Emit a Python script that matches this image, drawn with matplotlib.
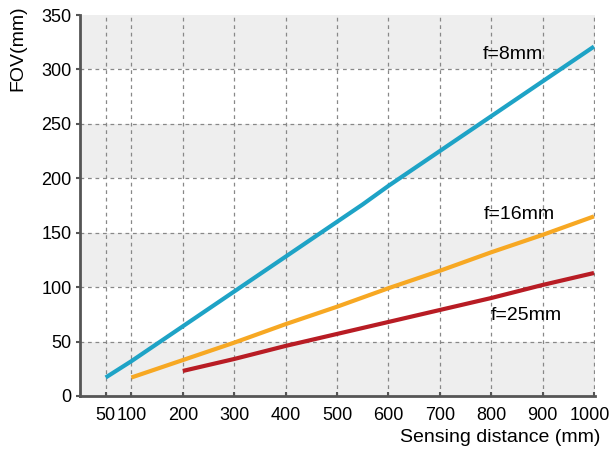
import matplotlib
matplotlib.use("Agg")
import matplotlib.pyplot as plt
from matplotlib.transforms import ScaledTranslation

plt.rcParams['font.family'] = ['Liberation Sans', 'DejaVu Sans']

x_f8 = [50, 100, 150, 200, 250, 300, 350, 400, 450, 500, 550, 600, 650, 700, 750, 800, 850, 900, 950, 1000]
y_f8 = [17, 32, 48, 64, 80, 96, 112, 128, 144, 160, 176, 193, 209, 225, 241, 257, 273, 289, 305, 321]
x_f16 = [100, 200, 300, 400, 500, 600, 700, 800, 900, 1000]
y_f16 = [17, 33, 49, 66, 82, 99, 115, 132, 148, 165]
x_f25 = [200, 300, 400, 500, 600, 700, 800, 900, 1000]
y_f25 = [23, 34, 46, 57, 68, 79, 90, 102, 113]

x_ticks = [50, 100, 200, 300, 400, 500, 600, 700, 800, 900, 1000]
y_ticks = [0, 50, 100, 150, 200, 250, 300, 350]
labels = ["f=8mm", "f=16mm", "f=25mm"]
colors = ["#1ea3c6", "#f7a823", "#b81c24"]

fig = plt.figure(figsize=(6.12, 4.54), dpi=100)
ax = fig.add_axes([80/612, 58/454, 515/612, 381/454])

for lo in [0, 100, 200, 300]:
    ax.axhspan(lo, lo + 50, color="#eeeeee", zorder=0, lw=0)

for xv in x_ticks:
    ax.axvline(xv, color="#888888", lw=0.9, ls=(0, (3, 3)), zorder=1)
for yv in y_ticks[1:-1]:
    ax.axhline(yv, color="#888888", lw=0.9, ls=(0, (3, 3)), zorder=1)

ax.plot(x_f8, y_f8, color=colors[0], lw=3, solid_capstyle="butt", zorder=3)
ax.plot(x_f16, y_f16, color=colors[1], lw=3, solid_capstyle="butt", zorder=3)
ax.plot(x_f25, y_f25, color=colors[2], lw=3, solid_capstyle="butt", zorder=3)

ax.text(842, 314, labels[0], fontsize=14, ha="center", va="center")
ax.text(855, 167, labels[1], fontsize=14, ha="center", va="center")
ax.text(868, 74, labels[2], fontsize=14, ha="center", va="center")

ax.set_xlim(0, 1002)
ax.set_ylim(0, 350)
ax.set_xticks(x_ticks)
ax.set_yticks(y_ticks)
ax.tick_params(axis="both", labelsize=13, colors="#555555", labelcolor="black", width=1.5)
ax.tick_params(axis="y", direction="out", length=3, pad=3)
ax.tick_params(axis="x", direction="in", length=3, pad=8)

last = ax.get_xticklabels()[-1]
last.set_transform(last.get_transform() + ScaledTranslation(-4/100, 0, fig.dpi_scale_trans))

for s in ["top", "right"]:
    ax.spines[s].set_visible(False)
for s in ["left", "bottom"]:
    ax.spines[s].set_color("#555555")
    ax.spines[s].set_linewidth(2)

fig.text(600/612, 1 - 438/454, "Sensing distance (mm)", fontsize=14, ha="right", va="center")
fig.text(18/612, 1 - 48/454, "FOV(mm)", fontsize=14, rotation=90, ha="center", va="center")

fig.savefig("out.png", dpi=100)
